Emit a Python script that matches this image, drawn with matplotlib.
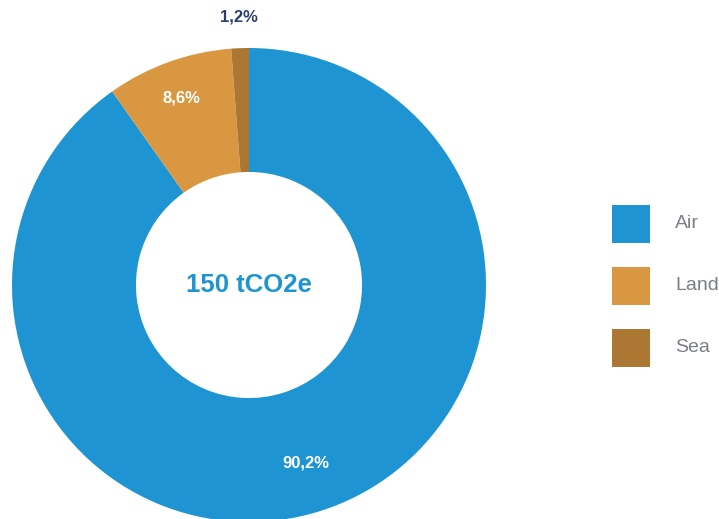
import numpy as np
import matplotlib
matplotlib.use("Agg")
import matplotlib.pyplot as plt
from matplotlib.patches import Rectangle

categories = ["Air", "Land", "Sea"]
shares = [90.2, 8.6, 1.2]
colors = ["#1E95D2", "#DA9741", "#AC7733"]
total_label = "150 tCO2e"

W, H = 719, 519
fig = plt.figure(figsize=(W / 100, H / 100), dpi=100)

cx, cy, R = 249, 285, 237
ax = fig.add_axes([(cx - R) / W, (H - cy - R) / H, 2 * R / W, 2 * R / H])

wedges, _ = ax.pie(shares, colors=colors, startangle=90, counterclock=False,
                   radius=1.0, wedgeprops=dict(width=0.523, linewidth=0))
ax.set_xlim(-1, 1)
ax.set_ylim(-1, 1)
ax.set_aspect("equal")
ax.axis("off")

font = "Liberation Sans"

def fmt(v):
    return f"{v:.1f}".replace(".", ",") + "%"

label_dist = [0.79, 0.84, 1.13]
label_col = ["white", "white", "#2B3F6B"]
for w, v, d, c in zip(wedges, shares, label_dist, label_col):
    ang = np.deg2rad((w.theta1 + w.theta2) / 2)
    ax.text(d * np.cos(ang), d * np.sin(ang), fmt(v), ha="center", va="center",
            color=c, fontsize=12, fontweight="bold", family=font, clip_on=False)

ax.text(0, 0, total_label, ha="center", va="center", color="#1E95D2",
        fontsize=18.5, fontweight="bold", family=font)

# legend swatches and labels
sw = 38
for i, (name, col) in enumerate(zip(categories, colors)):
    top = 205 + i * 62
    fig.patches.append(Rectangle((612 / W, (H - top - sw) / H), sw / W, sw / H,
                                 transform=fig.transFigure, color=col, linewidth=0))
    fig.text(675 / W, (H - top - sw / 2) / H, name, ha="left", va="center",
             color="#7A7F85", fontsize=14, family=font)

fig.savefig("out.png", dpi=100)
